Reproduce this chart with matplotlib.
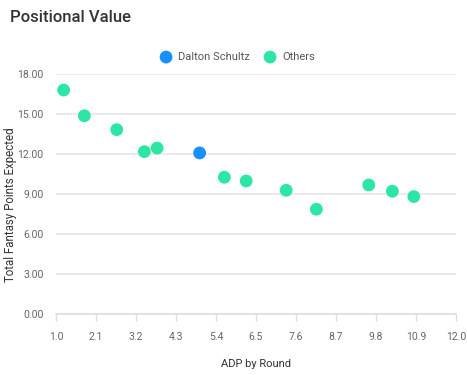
import matplotlib
matplotlib.use("Agg")
import matplotlib.pyplot as plt

plt.rcParams['font.family'] = ['Roboto', 'DejaVu Sans']

# Data
player_name = "Dalton Schultz"
player_adp = [4.95]
player_pts = [12.1]

others_adp = [1.21, 1.78, 2.67, 3.43, 3.78, 5.63, 6.23, 7.33, 8.16, 9.60, 10.25, 10.84]
others_pts = [16.82, 14.89, 13.85, 12.20, 12.47, 10.28, 10.00, 9.30, 7.88, 9.70, 9.23, 8.83]

x_ticks = [1.0, 2.1, 3.2, 4.3, 5.4, 6.5, 7.6, 8.7, 9.8, 10.9, 12.0]
y_ticks = [0, 3, 6, 9, 12, 15, 18]

blue = '#1890ff'
green = '#2ee6a3'
text_grey = '#666666'

fig = plt.figure(figsize=(4.67, 3.75), dpi=100)
ax = fig.add_axes([56 / 467, 1 - 314.3 / 375, 400 / 467, 240 / 375])

ax.scatter(others_adp, others_pts, s=85, color=green, edgecolors='none', zorder=3, label='Others')
ax.scatter(player_adp, player_pts, s=85, color=blue, edgecolors='none', zorder=4, label=player_name)

ax.set_xlim(1.0, 12.0)
ax.set_ylim(0, 18)
ax.set_xticks(x_ticks)
ax.set_xticklabels([f"{t:.1f}" for t in x_ticks])
ax.set_yticks(y_ticks)
ax.set_yticklabels([f"{t:.2f}" for t in y_ticks])

for s in ['top', 'right', 'left']:
    ax.spines[s].set_visible(False)
ax.spines['bottom'].set_color('#dddddd')
ax.spines['bottom'].set_linewidth(1.2)

ax.grid(axis='y', color='#e8e8e8', linewidth=1.2, zorder=0)
ax.set_axisbelow(True)
ax.tick_params(axis='y', length=0, pad=9, labelsize=7.5, labelcolor=text_grey)
ax.tick_params(axis='x', length=5, width=1, color='#dddddd', pad=8, labelsize=7.5, labelcolor=text_grey)

ax.set_xlabel('ADP by Round', fontsize=8, color='#333333', labelpad=12)
fig.text(11 / 467, 1 - 205 / 375, 'Total Fantasy Points Expected', fontsize=8.3, color='#333333',
         rotation=90, ha='center', va='center')

handles, labels = ax.get_legend_handles_labels()
fig.legend(handles[::-1], labels[::-1], loc='center', bbox_to_anchor=(235 / 467, 1 - 57 / 375),
           ncol=2, frameon=False, fontsize=8, labelcolor='#555555', handletextpad=0.1,
           columnspacing=0.8, markerscale=1.0)

fig.text(10 / 467, 1 - 17 / 375, 'Positional Value', fontsize=12, fontweight='medium',
         color='#333333', va='center', ha='left')

fig.savefig('out.png', dpi=100)
